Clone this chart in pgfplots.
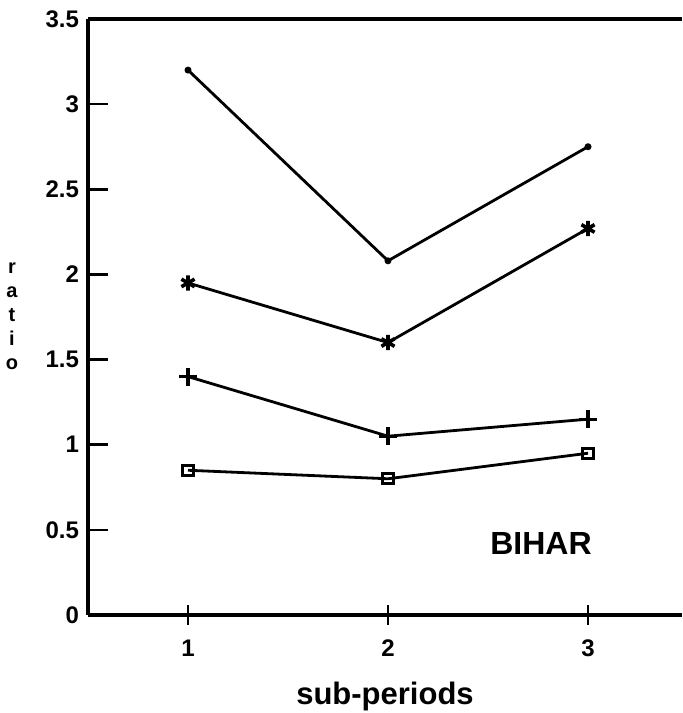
\documentclass[border=0pt]{standalone}
\usepackage{fontspec}
\setmainfont{Liberation Sans}
\usepackage{pgfplots}
\pgfplotsset{compat=1.18}

\begin{document}
\begin{tikzpicture}
\begin{axis}[
  scale only axis, width=297pt, height=298pt,
  xmin=0.5, xmax=3.47, ymin=0, ymax=3.5,
  axis x line*=bottom, axis y line*=left,
  axis line style={line width=1.6pt},
  xtick={1,2,3}, ytick={0,0.5,1,1.5,2,2.5,3,3.5},
  yticklabels={0,0.5,1,1.5,2,2.5,3,3.5},
  xtick align=center, ytick align=inside,
  major tick length=10pt,
  tick style={line width=1.3pt, black},
  /pgf/number format/assume math mode=true,
  ticklabel style={font=\bfseries\fontsize{12}{13}\selectfont},
  xticklabel style={yshift=-4pt},
  yticklabel style={xshift=-1pt},
  xlabel={sub-periods},
  xlabel style={font=\bfseries\fontsize{15.5}{17}\selectfont,
    at={(rel axis cs:0.5,0)}, anchor=north, yshift=-30pt},
  ylabel={\begin{tabular}{@{}c@{}}r\\a\\t\\i\\o\end{tabular}},
  ylabel style={rotate=-90, font=\bfseries\fontsize{10}{12}\selectfont,
    at={(rel axis cs:0,0.5)}, anchor=center, xshift=-38pt},
  clip=false,
]
\addplot[black, line width=1.4pt, mark=*, mark size=1pt] coordinates {
  (1,3.20) (2,2.08) (3,2.75)};
\addplot[black, line width=1.4pt, mark=asterisk, mark size=3.8pt,
  mark options={line width=1.8pt}] coordinates {
  (1,1.95) (2,1.60) (3,2.27)};
\addplot[black, line width=1.4pt, mark=+, mark size=4.5pt,
  mark options={line width=1.6pt}] coordinates {
  (1,1.40) (2,1.05) (3,1.15)};
\addplot[black, line width=1.4pt, mark=square, mark size=2.6pt,
  mark options={line width=1.5pt}] coordinates {
  (1,0.85) (2,0.80) (3,0.95)};
\node[font=\bfseries\fontsize{16}{18}\selectfont] at (axis cs:2.765,0.42) {BIHAR};
\coordinate (SW) at (rel axis cs:0,0);
\coordinate (NE) at (rel axis cs:1,1);
\end{axis}
\draw[line width=1.6pt] (SW |- NE) -- (NE);
\pgfresetboundingbox
\path[use as bounding box] ([shift={(-44pt,-49pt)}]SW) rectangle ([shift={(0pt,9.5pt)}]NE);
\end{tikzpicture}
\end{document}
